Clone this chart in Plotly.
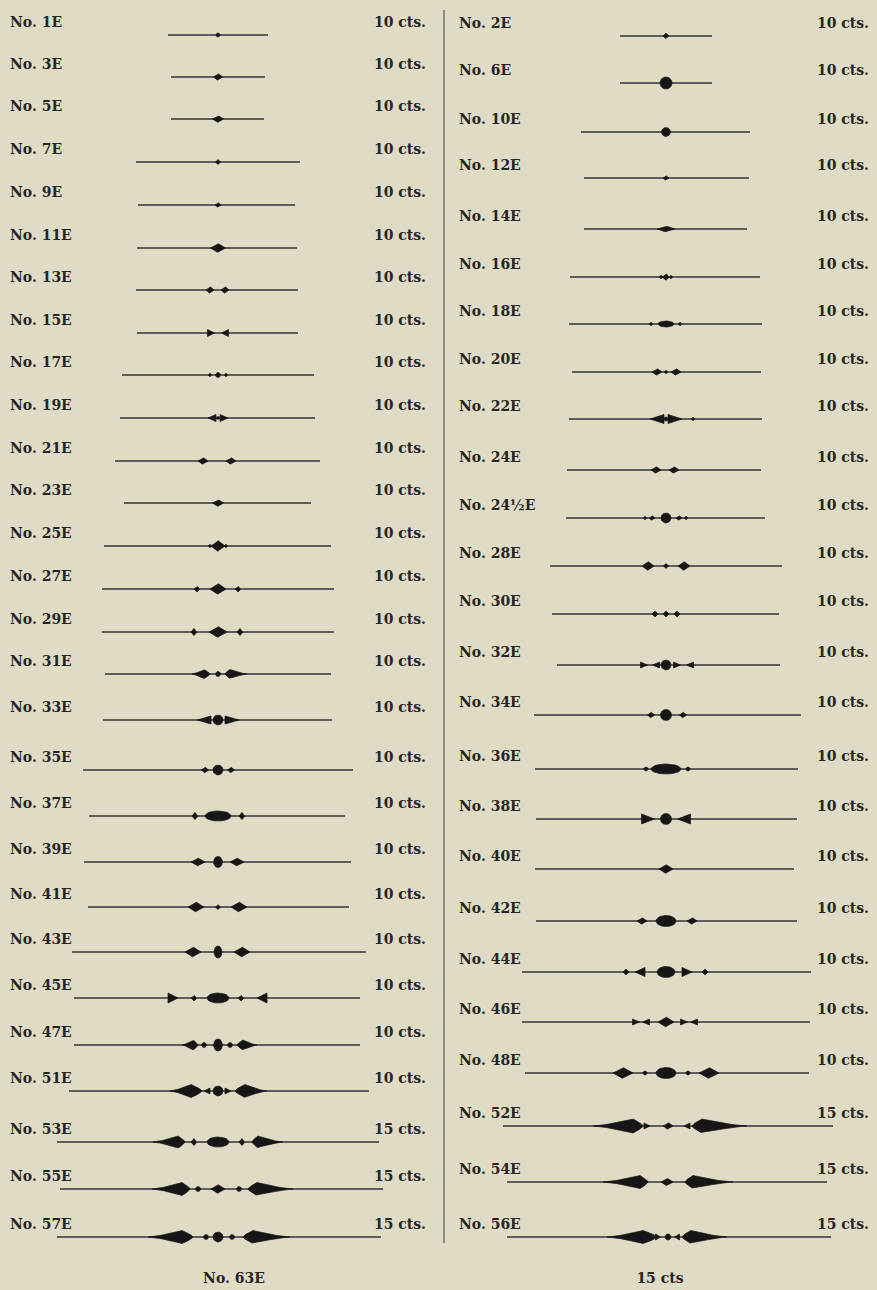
import plotly.graph_objects as go

# ---------------- data ----------------
left_labels = ["No. 1E", "No. 3E", "No. 5E", "No. 7E", "No. 9E", "No. 11E", "No. 13E",
               "No. 15E", "No. 17E", "No. 19E", "No. 21E", "No. 23E", "No. 25E", "No. 27E",
               "No. 29E", "No. 31E", "No. 33E", "No. 35E", "No. 37E", "No. 39E", "No. 41E",
               "No. 43E", "No. 45E", "No. 47E", "No. 51E", "No. 53E", "No. 55E", "No. 57E"]
left_prices = ["10 cts."] * 25 + ["15 cts."] * 3
left_wire_y = [35, 77, 119, 162, 205, 248, 290, 333, 375, 418, 461, 503, 546, 589,
               632, 674, 720, 770, 816, 862, 907, 952, 998, 1045, 1091, 1142, 1189, 1237]
left_wire_x0 = [168, 171, 171, 136, 138, 137, 136, 137, 122, 120, 115, 124, 104, 102,
                102, 105, 103, 83, 89, 84, 88, 72, 74, 74, 69, 57, 60, 57]
left_wire_x1 = [268, 265, 264, 300, 295, 297, 298, 298, 314, 315, 320, 311, 331, 334,
                334, 331, 332, 353, 345, 351, 349, 366, 360, 360, 369, 379, 383, 381]
left_ornaments = [
    [("bead", 0, 4, 4)],
    [("dia", 0, 9, 7)],
    [("dia", 0, 11, 7)],
    [("dia", 0, 5, 5)],
    [("dia", 0, 6, 5)],
    [("dia", 0, 15, 9)],
    [("dia", -8, 8, 7), ("dia", 7, 8, 7)],
    [("triR", -7, 7, 7), ("triL", 7, 7, 7)],
    [("bead", 0, 5, 5), ("bead", -8, 3, 3), ("bead", 8, 3, 3)],
    [("triL", -6, 8, 7), ("bead", 0, 3, 3), ("triR", 6, 8, 7)],
    [("dia", -15, 10, 7), ("dia", 13, 10, 7)],
    [("dia", 0, 11, 7)],
    [("dia", 0, 14, 11), ("bead", -8, 3, 3), ("bead", 8, 3, 3)],
    [("dia", 0, 16, 11), ("dia", -21, 6, 6), ("dia", 20, 6, 6)],
    [("dia", 0, 18, 11), ("dia", -24, 6, 7), ("dia", 22, 6, 7)],
    [("spL", -14, 12, 6, 9), ("bead", 0, 5, 5), ("spR", 12, 17, 5, 9)],
    [("bead", 0, 10, 10), ("triL", -14, 14, 8), ("triR", 14, 14, 8)],
    [("bead", 0, 10, 10), ("dia", -13, 7, 6), ("dia", 13, 7, 6)],
    [("oval", 0, 26, 10), ("dia", -23, 6, 7), ("dia", 24, 6, 7)],
    [("oval", 0, 9, 11), ("dia", -20, 14, 8), ("dia", 19, 14, 8)],
    [("dia", -22, 16, 10), ("dia", 21, 16, 10), ("dia", 0, 5, 5)],
    [("dia", -25, 16, 10), ("dia", 24, 16, 10), ("oval", 0, 8, 12)],
    [("triR", -45, 10, 10), ("dia", -24, 6, 6), ("oval", 0, 22, 10),
     ("dia", 23, 6, 6), ("triL", 44, 10, 10)],
    [("spL", -25, 11, 5, 10), ("bead", -14, 5, 5), ("oval", 0, 9, 12),
     ("bead", 12, 5, 5), ("spR", 25, 14, 6, 10)],
    [("spL", -27, 21, 11, 13), ("triL", -11, 6, 6), ("bead", 0, 10, 10),
     ("triR", 10, 6, 6), ("spR", 27, 22, 10, 13)],
    [("spL", -40, 25, 7, 12), ("dia", -24, 6, 7), ("oval", 0, 22, 10),
     ("dia", 24, 6, 7), ("spR", 40, 25, 6, 12)],
    [("spL", -36, 30, 8, 13), ("bead", -20, 5, 5), ("dia", 0, 14, 9),
     ("bead", 21, 5, 5), ("spR", 39, 36, 9, 13)],
    [("spL", -36, 34, 11, 13), ("bead", -12, 5, 5), ("bead", 0, 10, 10),
     ("bead", 14, 5, 5), ("spR", 35, 37, 10, 13)],
]

right_labels = ["No. 2E", "No. 6E", "No. 10E", "No. 12E", "No. 14E", "No. 16E", "No. 18E",
                "No. 20E", "No. 22E", "No. 24E", "No. 24½E", "No. 28E", "No. 30E", "No. 32E",
                "No. 34E", "No. 36E", "No. 38E", "No. 40E", "No. 42E", "No. 44E", "No. 46E",
                "No. 48E", "No. 52E", "No. 54E", "No. 56E"]
right_prices = ["10 cts."] * 22 + ["15 cts."] * 3
right_wire_y = [36, 83, 132, 178, 229, 277, 324, 372, 419, 470, 518, 566, 614, 665,
                715, 769, 819, 869, 921, 972, 1022, 1073, 1126, 1182, 1237]
right_wire_x0 = [620, 620, 581, 584, 584, 570, 569, 572, 569, 567, 566, 550, 552, 557,
                 534, 535, 536, 535, 536, 522, 522, 525, 503, 507, 507]
right_wire_x1 = [712, 712, 750, 749, 747, 760, 762, 761, 762, 761, 765, 782, 779, 780,
                 801, 798, 797, 794, 797, 811, 810, 809, 833, 827, 831]
right_ornaments = [
    [("dia", 0, 6, 6)],
    [("bead", 0, 12, 12)],
    [("bead", 0, 9, 9)],
    [("dia", 0, 6, 5)],
    [("dia", 0, 18, 6)],
    [("dia", 0, 7, 7), ("bead", -5, 3, 3), ("bead", 5, 3, 3)],
    [("oval", 0, 16, 6), ("bead", -15, 3, 3), ("bead", 14, 3, 3)],
    [("dia", -9, 10, 7), ("dia", 10, 10, 7), ("bead", 0, 3, 3)],
    [("triL", -9, 14, 9), ("bead", 0, 4, 4), ("triR", 9, 14, 9), ("bead", 27, 3, 3)],
    [("dia", -10, 10, 7), ("dia", 8, 10, 7)],
    [("bead", 0, 10, 10), ("dia", -14, 6, 5), ("dia", 13, 6, 5),
     ("bead", -21, 3, 3), ("bead", 20, 3, 3)],
    [("dia", -18, 12, 9), ("dia", 0, 5, 5), ("dia", 18, 12, 9)],
    [("dia", -11, 6, 6), ("dia", 0, 6, 6), ("dia", 11, 6, 6)],
    [("triR", -22, 7, 6), ("triL", -10, 7, 6), ("bead", 0, 10, 10),
     ("triR", 11, 7, 6), ("triL", 24, 7, 6)],
    [("bead", 0, 11, 11), ("dia", -15, 7, 6), ("dia", 17, 7, 6)],
    [("oval", 0, 30, 10), ("bead", -20, 4, 4), ("bead", 22, 4, 4)],
    [("triR", -18, 13, 10), ("bead", 0, 11, 11), ("triL", 18, 13, 10)],
    [("dia", 0, 14, 9)],
    [("oval", 0, 20, 11), ("dia", -24, 10, 7), ("dia", 26, 10, 7)],
    [("dia", -40, 6, 6), ("triL", -26, 10, 9), ("oval", 0, 18, 11),
     ("triR", 21, 10, 9), ("dia", 39, 6, 6)],
    [("triR", -30, 7, 6), ("triL", -20, 7, 6), ("dia", 0, 16, 10),
     ("triR", 18, 7, 6), ("triL", 28, 7, 6)],
    [("dia", -43, 20, 11), ("bead", -21, 4, 4), ("oval", 0, 20, 11),
     ("bead", 22, 4, 4), ("dia", 43, 20, 11)],
    [("spL", -33, 40, 10, 14), ("triR", -19, 6, 6), ("dia", 2, 10, 7),
     ("triL", 21, 6, 6), ("spR", 36, 45, 10, 14)],
    [("spL", -26, 37, 8, 13), ("dia", 1, 12, 8), ("spR", 27, 40, 8, 13)],
    [("spL", -23, 36, 14, 13), ("triR", -8, 5, 6), ("bead", 2, 6, 6),
     ("triL", 11, 5, 6), ("spR", 25, 36, 9, 13)],
]

footer_texts = ["No. 63E", "15 cts"]

# ---------------- layout constants ----------------
W, H = 877, 1290
BG = "#dfdbc4"
INK = "#161616"
WIRE = "#333333"
TXT = "#262626"
FONT = "DejaVu Serif"
COL_CENTER = {"left": 218, "right": 666}
LABEL_X = {"left": 10, "right": 459}
PRICE_X = {"left": 426, "right": 869}
FOOT_X = [234, 660]
FOOT_Y = 1279
SEP_X = 444
SEP_Y = (10, 1243)


def lens(cx, cy, L, R, hh, pl, pr, n=18):
    xs, ys = [], []
    top = []
    for i in range(n, -1, -1):
        t = i / n
        top.append((cx - L * t, hh * (1 - t) ** pl))
    for i in range(1, n + 1):
        t = i / n
        top.append((cx + R * t, hh * (1 - t) ** pr))
    for x, yh in top:
        xs.append(x)
        ys.append(cy - yh)
    for x, yh in reversed(top):
        xs.append(x)
        ys.append(cy + yh)
    return xs, ys


def ellipse(cx, cy, w, h, n=28):
    import math
    xs = [cx + w / 2 * math.cos(2 * math.pi * k / n) for k in range(n + 1)]
    ys = [cy + h / 2 * math.sin(2 * math.pi * k / n) for k in range(n + 1)]
    return xs, ys


def ornament_poly(o, cx, cy):
    kind = o[0]
    x = cx + o[1]
    if kind == "dia":
        return lens(x, cy, o[2] / 2, o[2] / 2, o[3] / 2, 1.0, 1.0)
    if kind in ("oval", "bead"):
        return ellipse(x, cy, o[2], o[3])
    if kind == "triL":
        w, h = o[2], o[3]
        return [x - w / 2, x + w / 2, x + w / 2, x - w / 2], [cy, cy - h / 2, cy + h / 2, cy]
    if kind == "triR":
        w, h = o[2], o[3]
        return [x + w / 2, x - w / 2, x - w / 2, x + w / 2], [cy, cy - h / 2, cy + h / 2, cy]
    if kind == "spL":
        return lens(x, cy, o[2], o[3], o[4] / 2, 1.4, 0.7)
    if kind == "spR":
        return lens(x, cy, o[3], o[2], o[4] / 2, 0.7, 1.4)
    return [], []


fig = go.Figure()

columns = [
    ("left", left_labels, left_prices, left_wire_y, left_wire_x0, left_wire_x1, left_ornaments),
    ("right", right_labels, right_prices, right_wire_y, right_wire_x0, right_wire_x1, right_ornaments),
]

for side, labels, prices, wy, wx0, wx1, orns in columns:
    cx = COL_CENTER[side]
    lx, ly = [], []
    for y, a, b in zip(wy, wx0, wx1):
        lx += [a, b, None]
        ly += [y, y, None]
    fig.add_trace(go.Scatter(x=lx, y=ly, mode="lines",
                             line=dict(color=WIRE, width=1.5),
                             hoverinfo="skip", showlegend=False))
    px, py = [], []
    for y, olist in zip(wy, orns):
        for o in olist:
            xs, ys = ornament_poly(o, cx, y)
            px += xs + [None]
            py += ys + [None]
    fig.add_trace(go.Scatter(x=px, y=py, mode="lines", fill="toself",
                             fillcolor=INK, line=dict(color=INK, width=0.7),
                             hoverinfo="skip", showlegend=False))
    ty = [y - 12 for y in wy]
    fig.add_trace(go.Scatter(x=[LABEL_X[side]] * len(labels), y=ty, mode="text",
                             text=labels, textposition="middle right",
                             textfont=dict(family=FONT, size=14, color=TXT, weight="bold"),
                             hoverinfo="skip", showlegend=False))
    fig.add_trace(go.Scatter(x=[PRICE_X[side]] * len(prices), y=ty, mode="text",
                             text=prices, textposition="middle left",
                             textfont=dict(family=FONT, size=14, color=TXT, weight="bold"),
                             hoverinfo="skip", showlegend=False))

fig.add_trace(go.Scatter(x=[SEP_X, SEP_X], y=list(SEP_Y), mode="lines",
                         line=dict(color="#555555", width=1.2),
                         hoverinfo="skip", showlegend=False))

fig.add_trace(go.Scatter(x=FOOT_X, y=[FOOT_Y] * 2, mode="text", text=footer_texts,
                         textposition="middle center",
                         textfont=dict(family=FONT, size=14, color=TXT, weight="bold"),
                         hoverinfo="skip", showlegend=False))

fig.update_layout(
    width=W, height=H, autosize=False,
    margin=dict(l=0, r=0, t=0, b=0, pad=0),
    paper_bgcolor=BG, plot_bgcolor=BG,
    xaxis=dict(range=[0, W], visible=False, fixedrange=True),
    yaxis=dict(range=[H, 0], visible=False, fixedrange=True),
)

fig.write_html(
    "out.html",
    config={"displayModeBar": False},
    post_script="document.body.style.margin='0';document.body.style.padding='0';"
                "document.body.style.background='" + BG + "';"
                "document.body.style.overflow='hidden';",
)
